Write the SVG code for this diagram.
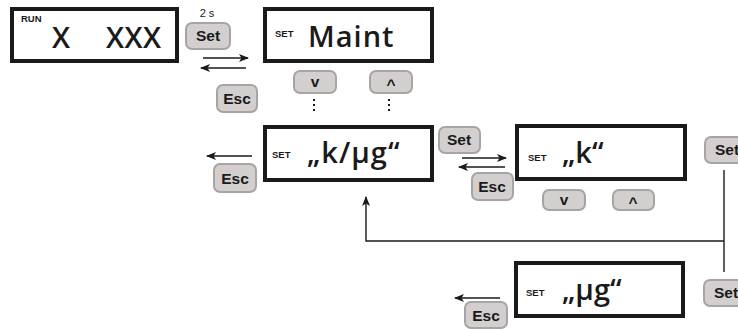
<svg xmlns="http://www.w3.org/2000/svg" width="738" height="329" viewBox="0 0 738 329">
<defs>
<marker id="ah" viewBox="0 0 10 10" refX="9" refY="5" markerWidth="10" markerHeight="10" markerUnits="userSpaceOnUse" orient="auto">
<path d="M0,1 L10,5 L0,9 L2.5,5 Z" fill="#1a1a1a"/>
</marker>
</defs>
<style>
.disp{fill:#fff;stroke:#1a1a1a;stroke-width:4}
.btn{fill:#d3cfcf;stroke:#a8a4a4;stroke-width:2}
.bt{font-family:"Liberation Sans",Arial,sans-serif;font-weight:bold;font-size:15.5px;fill:#1a1a1a;text-anchor:middle}
.small{font-family:"Liberation Sans",Arial,sans-serif;font-size:9.5px;font-weight:bold;fill:#1a1a1a}
.big{font-family:"Open Sans","Noto Sans",sans-serif;font-size:29px;fill:#1a1a1a;font-weight:600}
.ln{fill:none;stroke:#1a1a1a;stroke-width:1.4}
.dot{fill:none;stroke:#1a1a1a;stroke-width:2;stroke-dasharray:2 3}
.lbl{font-family:"Liberation Sans",Arial,sans-serif;font-size:11px;fill:#1a1a1a;text-anchor:middle}
</style>
<g id="run">
<rect class="disp" x="12" y="9" width="165" height="52"/>
<text class="small" x="21" y="22">RUN</text>
<text class="big" x="52" y="48" font-size="30">X</text>
<text class="big" x="106" y="48" font-size="30" letter-spacing="0.5">XXX</text>
</g>
<g id="maint">
<rect class="disp" x="265" y="9" width="167" height="52"/>
<text class="small" x="275" y="37">SET</text>
<text class="big" x="308" y="47" letter-spacing="1">Maint</text>
</g>
<g id="kug">
<rect class="disp" x="265" y="127" width="167" height="53"/>
<text class="small" x="272" y="158">SET</text>
<text class="big" x="307" y="163" font-size="30" letter-spacing="1">„k/µg“</text>
</g>
<g id="k">
<rect class="disp" x="517" y="126" width="168" height="53"/>
<text class="small" x="528" y="161">SET</text>
<text class="big" x="562" y="163" font-size="30">„k“</text>
</g>
<g id="ug">
<rect class="disp" x="516" y="263" width="167" height="53"/>
<text class="small" x="526" y="296">SET</text>
<text class="big" x="562" y="300" font-size="30">„µg“</text>
</g>
<g id="buttons">
<g id="set1"><text class="lbl" x="207" y="17">2 s</text><rect class="btn" x="186" y="23" width="44" height="26" rx="6"/><text class="bt" x="208" y="41">Set</text></g>
<g id="esc1"><rect class="btn" x="217" y="85" width="40" height="27" rx="6"/><text class="bt" x="237" y="104">Esc</text></g>
<g id="down1"><rect class="btn" x="294" y="71" width="42" height="22" rx="6"/><text class="bt" x="315" y="87" font-size="13">v</text></g>
<g id="up1"><rect class="btn" x="370" y="71" width="42" height="22" rx="6"/><text class="bt" x="391" y="90" font-size="14">^</text></g>
<g id="esc2"><rect class="btn" x="214" y="164" width="42" height="28" rx="6"/><text class="bt" x="235" y="184">Esc</text></g>
<g id="set2"><rect class="btn" x="439" y="127" width="41" height="26" rx="6"/><text class="bt" x="459" y="145">Set</text></g>
<g id="esc3"><rect class="btn" x="472" y="173" width="41" height="27" rx="6"/><text class="bt" x="492" y="192">Esc</text></g>
<g id="down2"><rect class="btn" x="543" y="190" width="42" height="20" rx="6"/><text class="bt" x="564" y="205" font-size="13">v</text></g>
<g id="up2"><rect class="btn" x="613" y="190" width="41" height="20" rx="6"/><text class="bt" x="633" y="208" font-size="14">^</text></g>
<g id="set3"><rect class="btn" x="705" y="137" width="44" height="26" rx="6"/><text class="bt" x="727" y="155">Set</text></g>
<g id="set4"><rect class="btn" x="704" y="280" width="44" height="26" rx="6"/><text class="bt" x="726" y="298">Set</text></g>
<g id="esc4"><rect class="btn" x="465" y="302" width="42" height="26" rx="6"/><text class="bt" x="486" y="321">Esc</text></g>
</g>
<g id="connectors">
<line class="ln" x1="203" y1="58" x2="248" y2="58" marker-end="url(#ah)"/>
<line class="ln" x1="246" y1="68" x2="201" y2="68" marker-end="url(#ah)"/>
<line class="dot" x1="314" y1="99" x2="314" y2="114"/>
<line class="dot" x1="389" y1="99" x2="389" y2="114"/>
<line class="ln" x1="252" y1="156" x2="207" y2="156" marker-end="url(#ah)"/>
<line class="ln" x1="462" y1="158" x2="506" y2="158" marker-end="url(#ah)"/>
<line class="ln" x1="505" y1="167" x2="459" y2="167" marker-end="url(#ah)"/>
<polyline class="ln" points="724,170 724,272"/>
<polyline class="ln" points="724,241 366,241 366,197" marker-end="url(#ah)"/>
<line class="ln" x1="500" y1="298" x2="455" y2="298" marker-end="url(#ah)"/>
</g>
</svg>
